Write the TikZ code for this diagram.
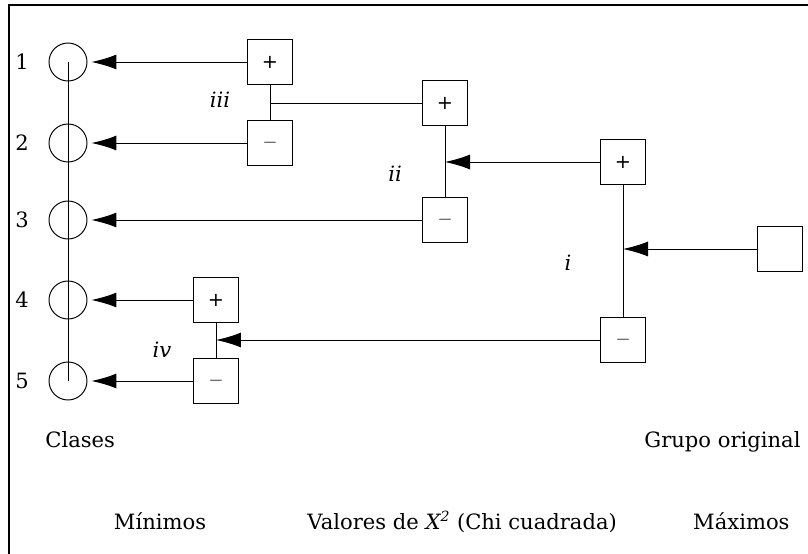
\documentclass[tikz,border=0pt]{standalone}
\usepackage{fontspec}
\setmainfont{DejaVu Serif}
\setsansfont{DejaVu Sans}
\usetikzlibrary{arrows.meta}
\def \orig {Grupo original}
\def \valores {Valores de \textit{X\textsuperscript{2}} (Chi cuadrada)}

\begin{document}
\begin{tikzpicture}[x=0.02cm,y=-0.02cm,line width=0.55pt,
    font=\fontsize{12}{14}\selectfont,
    caja/.style={draw,minimum size=0.9cm,inner sep=0pt,font=\fontsize{11}{13}\sffamily},
    clase/.style={draw,circle,minimum size=0.76cm,inner sep=0pt},
    flecha/.style={-{Latex[length=0.5cm,width=0.3cm]}},
    etiq/.style={font=\fontsize{12}{14}\selectfont\itshape}]
    \useasboundingbox (0,0) rectangle (808,554);
    \draw[line width=1.2pt] (9,554) -- (9,5) -- (808,5);

    % clases
    \foreach \n/\y in {1/62,2/143,3/220,4/300,5/381}{
      \node[clase] (C\n) at (68,\y) {};
      \node (N\n) at (22,\y) {\n};
    }
    \draw (C1.center) -- (C5.center);

    % cajas
    \node[caja] (IIIp) at (270,62) {+};
    \node[caja] (IIIm) at (270,143) {$-$};
    \node[caja] (IIp) at (445,103) {+};
    \node[caja] (IIm) at (445,220) {$-$};
    \node[caja] (Ip) at (623,162) {+};
    \node[caja] (Im) at (623,340) {$-$};
    \node[caja] (IVp) at (216,300) {+};
    \node[caja] (IVm) at (216,381) {$-$};
    \node[caja] (G) at (780,249) {};

    \node[etiq] (i) at (568,263) {i};
    \node[etiq] (ii) at (395,174) {ii};
    \node[etiq] (iii) at (220,100) {iii};
    \node[etiq] (iv) at (162,350) {iv};

    \draw (IIIp) -- (IIIm);
    \draw (IIp) -- (IIm);
    \draw (Ip) -- (Im);
    \draw (IVp) -- (IVm);
    \draw (IIp) -- (IIp -| IIIp);

    \draw[flecha,shorten >=0.08cm] (IIIp) -- (C1);
    \draw[flecha,shorten >=0.08cm] (IIIm) -- (C2);
    \draw[flecha,shorten >=0.08cm] (IIm) -- (C3);
    \draw[flecha,shorten >=0.08cm] (IVp) -- (C4);
    \draw[flecha,shorten >=0.08cm] (IVm) -- (C5);
    \draw[flecha] (Ip) -- (Ip -| IIp);
    \draw[flecha] (G) -- (G -| Ip);
    \draw[flecha] (Im) -- (Im -| IVp);

    \node[anchor=base west,inner sep=0pt] (clases) at (45,447) {Clases};
    \node[anchor=base east,inner sep=0pt] (grupo) at (801,447) {\orig};
    \node[anchor=base,inner sep=0pt] (min) at (160,529) {Mínimos};
    \node[anchor=base west,inner sep=0pt] (val) at (307,529) {\valores};
    \node[anchor=base east,inner sep=0pt] (max) at (790,529) {Máximos};
\end{tikzpicture}
\end{document}
